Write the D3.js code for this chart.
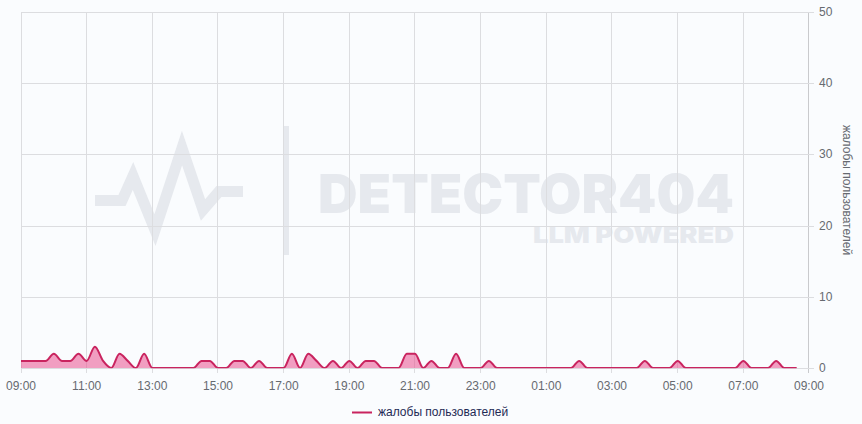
<!DOCTYPE html>
<html>
<head>
<meta charset="utf-8">
<script src="https://cdn.jsdelivr.net/npm/d3@7"></script>
<style>
  html, body { margin: 0; padding: 0; background: #fafcfe; }
  svg { display: block; font-family: "Liberation Sans", Arial, sans-serif; }
</style>
</head>
<body>
<script>
var seriesName = 'жалобы пользователей';
var tickSteps = [0, 8, 16, 24, 32, 40, 48, 56, 64, 72, 80, 88, 96];
var tickLabels = ['09:00', '11:00', '13:00', '15:00', '17:00', '19:00', '21:00', '23:00', '01:00', '03:00', '05:00', '07:00', '09:00'];
var yTicks = [0, 10, 20, 30, 40, 50];
// one value every 15 minutes from 09:00
var complaints = [
  1, 1, 1, 1, 2, 1, 1, 2, 1, 3, 1, 0, 2, 1, 0, 2,
  0, 0, 0, 0, 0, 0, 1, 1, 0, 0, 1, 1, 0, 1, 0, 0,
  0, 2, 0, 2, 1, 0, 1, 0, 1, 0, 1, 1, 0, 0, 0, 2,
  2, 0, 1, 0, 0, 2, 0, 0, 0, 1, 0, 0, 0, 0, 0, 0,
  0, 0, 0, 0, 1, 0, 0, 0, 0, 0, 0, 0, 1, 0, 0, 0,
  1, 0, 0, 0, 0, 0, 0, 0, 1, 0, 0, 0, 1, 0, 0
];
// the last reading comes a little late, about 08:37
var steps = complaints.map((d, i) => i == complaints.length - 1 ? 94.5 : i);

var w = 862;
var h = 424;
var plotLeft = 21, plotRight = 809, plotTop = 12, plotBottom = 368;

var x = d3.scaleLinear().domain([0, 96]).range([plotLeft, plotRight]);
var y = d3.scaleLinear().domain([0, 50]).range([plotBottom, plotTop]);

var svg = d3.select('body')
  .append('svg')
  .attr('width', w)
  .attr('height', h);

// the line is cut at the zero level, so the flat parts look thin
svg.append('clipPath')
  .attr('id', 'plot-clip')
  .append('rect')
  .attr('x', plotLeft)
  .attr('y', plotTop)
  .attr('width', plotRight - plotLeft)
  .attr('height', plotBottom - plotTop + .2);

// watermark sits under the grid
var wm = svg.append('g').attr('class', 'watermark');
wm.append('path')
  .attr('d', 'M95,200.5H122L133,176L155,230L182,148L203,210L219,191.5H243')
  .attr('fill', 'none')
  .attr('stroke', '#e6e9ee')
  .attr('stroke-width', 11);
wm.append('rect')
  .attr('x', 284).attr('y', 126)
  .attr('width', 5).attr('height', 129)
  .attr('fill', '#e6e9ee');
wm.append('text')
  .attr('x', 734).attr('y', 213)
  .attr('text-anchor', 'end')
  .attr('textLength', 416)
  .attr('lengthAdjust', 'spacingAndGlyphs')
  .attr('fill', '#e6e9ee')
  .style('font', '900 54px "Inter", sans-serif')
  .text('DETECTOR404');
wm.append('text')
  .attr('x', 734).attr('y', 243)
  .attr('text-anchor', 'end')
  .attr('textLength', 201)
  .attr('lengthAdjust', 'spacingAndGlyphs')
  .attr('fill', '#e6e9ee')
  .style('font', '900 23px "Inter", sans-serif')
  .text('LLM POWERED');

// grid
var gridX = d => Math.max(plotLeft, Math.floor(x(d) - .2)) + .5;

svg.selectAll('line.gx')
  .data(tickSteps)
  .enter()
  .append('line')
  .attr('class', 'gx')
  .attr('x1', gridX)
  .attr('x2', gridX)
  .attr('y1', plotTop)
  .attr('y2', plotBottom + 5)
  .attr('stroke', (d, i) => i == tickSteps.length - 1 ? '#c9cacd' : '#dcdde0');

svg.selectAll('line.gy')
  .data(yTicks)
  .enter()
  .append('line')
  .attr('class', 'gy')
  .attr('x1', plotLeft)
  .attr('x2', plotRight + 5)
  .attr('y1', d => Math.round(y(d)) + .5)
  .attr('y2', d => Math.round(y(d)) + .5)
  .attr('stroke', '#dcdde0');

// series
var area = d3.area()
  .x((d, i) => x(steps[i]))
  .y0(y(0))
  .y1(d => y(d))
  .curve(d3.curveMonotoneX);
var line = d3.line()
  .x((d, i) => x(steps[i]))
  .y(d => y(d))
  .curve(d3.curveMonotoneX);

svg.append('path')
  .datum(complaints)
  .attr('d', area)
  .attr('fill', '#e9518e')
  .attr('fill-opacity', .55);
svg.append('path')
  .datum(complaints)
  .attr('d', line)
  .attr('clip-path', 'url(#plot-clip)')
  .attr('fill', 'none')
  .attr('stroke', '#c9245f')
  .attr('stroke-width', 2);

// axis labels
svg.selectAll('text.xl')
  .data(tickSteps)
  .enter()
  .append('text')
  .attr('class', 'xl')
  .attr('x', d => x(d))
  .attr('y', 390)
  .attr('text-anchor', 'middle')
  .attr('fill', '#666a70')
  .attr('font-size', 12)
  .text((d, i) => tickLabels[i]);

svg.selectAll('text.yl')
  .data(yTicks)
  .enter()
  .append('text')
  .attr('class', 'yl')
  .attr('x', 819)
  .attr('y', d => y(d) + 4)
  .attr('fill', '#666a70')
  .attr('font-size', 12)
  .text(d => d);

svg.append('text')
  .attr('transform', 'translate(843,190) rotate(90)')
  .attr('text-anchor', 'middle')
  .attr('fill', '#666a70')
  .attr('font-size', 12)
  .text(seriesName);

// legend
svg.append('line')
  .attr('x1', 352).attr('x2', 372)
  .attr('y1', 412.5).attr('y2', 412.5)
  .attr('stroke', '#c9245f')
  .attr('stroke-width', 2);
svg.append('text')
  .attr('x', 378).attr('y', 416)
  .attr('fill', '#1f2a55')
  .attr('font-size', 12)
  .text(seriesName);
</script>
</body>
</html>
